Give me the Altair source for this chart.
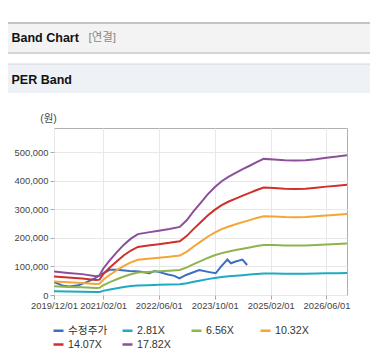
import altair as alt
import pandas as pd

# ---- data (values in 원) ----
band_dates = ["2019-12-01", "2020-04-01", "2020-08-01", "2020-12-01", "2021-01-01", "2021-02-01",
              "2021-04-01", "2021-06-01", "2021-08-01", "2021-10-01", "2021-12-01", "2022-03-01",
              "2022-06-01", "2022-09-01", "2022-12-01", "2023-02-01", "2023-04-01", "2023-06-01",
              "2023-08-01", "2023-10-01", "2023-12-01", "2024-02-01", "2024-04-01", "2024-06-01",
              "2024-08-01", "2024-10-01", "2024-12-01", "2025-03-01", "2025-06-01", "2025-09-01",
              "2025-12-01", "2026-03-01", "2026-06-01", "2026-09-01", "2026-12-01"]

per_1782 = [82000, 77000, 73000, 66000, 68000, 92000, 122000, 150000, 176000, 197000, 213000, 219000,
            225000, 231000, 238000, 262000, 293000, 322000, 352000, 377000, 398000, 414000, 427000, 440000,
            452000, 465000, 476000, 474000, 471000, 470000, 471000, 475000, 480000, 484000, 489000]
per_1407 = [64700, 60800, 57600, 52100, 53700, 72600, 96300, 118400, 139000, 155500, 168200, 172900,
            177700, 182400, 187900, 206900, 231300, 254300, 277900, 297700, 314300, 326900, 337200, 347400,
            356900, 367200, 375800, 374300, 371900, 371100, 371900, 375100, 379000, 382200, 386100]
per_1032 = [47500, 44600, 42300, 38200, 39400, 53300, 70700, 86900, 101900, 114100, 123400, 126800,
            130300, 133800, 137800, 151700, 169700, 186500, 203800, 218300, 230500, 239700, 247300, 254800,
            261800, 269300, 275700, 274500, 272800, 272200, 272800, 275100, 278000, 280300, 283200]
per_656 = [30200, 28300, 26900, 24300, 25000, 33900, 44900, 55200, 64800, 72500, 78400, 80600,
           82800, 85000, 87600, 96400, 107900, 118500, 129600, 138800, 146500, 152400, 157200, 162000,
           166400, 171200, 175200, 174500, 173400, 173000, 173400, 174800, 176700, 178200, 180000]
per_281 = [12900, 12100, 11500, 10400, 10700, 14500, 19200, 23700, 27800, 31100, 33600, 34500,
           35500, 36400, 37500, 41300, 46200, 50800, 55500, 59500, 62800, 65300, 67300, 69400,
           71300, 73300, 75100, 74800, 74300, 74100, 74300, 74900, 75700, 76300, 77100]

price_dates = ["2019-12-01", "2020-01-15", "2020-02-20", "2020-04-15", "2020-07-01", "2020-09-10",
               "2020-11-20", "2021-02-01", "2021-04-01", "2021-06-01", "2021-09-20", "2021-12-15",
               "2022-03-10", "2022-04-25", "2022-06-05", "2022-08-20", "2022-10-15", "2022-11-28",
               "2023-01-25", "2023-05-20", "2023-08-15", "2023-10-10", "2023-11-25", "2024-01-20",
               "2024-02-20", "2024-04-01", "2024-05-30", "2024-07-10"]
price = [45000, 38000, 32000, 30000, 34000, 45000, 58000, 76000, 88000, 88000, 84000, 82000,
         76000, 84000, 80000, 72000, 67000, 58000, 70000, 87000, 80000, 76000, 99000, 124000,
         111000, 117000, 124000, 105000]

series_names = ["수정주가", "2.81X", "6.56X", "10.32X", "14.07X", "17.82X"]
series_colors = ["#3a6fc2", "#1eaac4", "#8fb44f", "#f4a534", "#d0302b", "#8c4f9b"]
x_ticks = ["2019-12-01", "2021-02-01", "2022-06-01", "2023-10-01", "2025-02-01", "2026-06-01"]
y_ticks = [0, 100000, 200000, 300000, 400000, 500000]

# ---- tables ----
def ms(s):
    return int(pd.Timestamp(s, tz="UTC").value // 10**6)

rows = []
for d, v in zip(price_dates, price):
    rows.append({"date": ms(d), "value": v, "series": "수정주가", "ord": 0})
for k, (name, vals) in enumerate(zip(series_names[1:], [per_281, per_656, per_1032, per_1407, per_1782])):
    for d, v in zip(band_dates, vals):
        rows.append({"date": ms(d), "value": v, "series": name, "ord": k + 1})
df = pd.DataFrame(rows)

FONT = "Liberation Sans, Noto Sans CJK KR, sans-serif"
x_domain = [ms("2019-12-01"), ms("2026-11-27")]

x_label_expr = (
    "toString(utcyear(datum.value)) + '/' + (utcmonth(datum.value) < 9 ? '0' : '') + "
    "toString(utcmonth(datum.value) + 1) + '/' + (utcdate(datum.value) < 10 ? '0' : '') + "
    "toString(utcdate(datum.value))"
)
y_label_expr = "datum.value == 0 ? '0' : toString(round(datum.value / 1000)) + ',000'"

color = alt.Color(
    "series:N",
    scale=alt.Scale(domain=series_names, range=series_colors),
    sort=series_names,
    legend=alt.Legend(
        title=None, orient="none", legendX=-2, legendY=196, direction="horizontal",
        columns=4, symbolType="stroke", symbolSize=100, symbolStrokeWidth=2.5,
        labelFontSize=10.7, labelFont=FONT, labelColor="#333", labelOffset=3,
        columnPadding=9, rowPadding=2, gridAlign="all",
    ),
)

lines = alt.Chart(df).mark_line(strokeWidth=2, clip=True).encode(
    x=alt.X("date:T", scale=alt.Scale(type="utc", domain=x_domain, nice=False),
            axis=alt.Axis(values=[ms(t) for t in x_ticks], labelExpr=x_label_expr,
                          title=None, labelFontSize=9.4, labelFont=FONT, labelColor="#444",
                          tickSize=4, tickColor="#aaa", labelPadding=2, domain=False,
                          gridColor="#e8e8e8", labelOverlap=False, labelFlush=False)),
    y=alt.Y("value:Q", scale=alt.Scale(domain=[0, 584000], nice=False),
            axis=alt.Axis(values=y_ticks, labelExpr=y_label_expr, title="(원)", titleAngle=0, titleX=-6,
                          titleY=-10, titleAlign="center", titleBaseline="middle",
                          titleFontWeight="normal", titleFontSize=10.5, titleFont=FONT,
                          titleColor="#444", labelFontSize=9.4, labelFont=FONT, labelColor="#444",
                          tickSize=4, tickColor="#aaa", labelPadding=2, domain=False,
                          gridColor="#e8e8e8")),
    color=color,
    detail="series:N",
    order="ord:Q",
)

# ---- page decorations (header bars) ----
bar1 = alt.Chart().mark_rect(color="#f3f3f3").encode(
    x=alt.value(-46), x2=alt.value(316), y=alt.value(-105), y2=alt.value(-75))
bar1_top = alt.Chart().mark_rule(color="#b2b2b2", strokeWidth=1.5).encode(
    x=alt.value(-46), x2=alt.value(316), y=alt.value(-105))
bar1_bot = alt.Chart().mark_rule(color="#c9c9c9", strokeWidth=1.5).encode(
    x=alt.value(-46), x2=alt.value(316), y=alt.value(-75))
bar2 = alt.Chart().mark_rect(color="#eef1f6").encode(
    x=alt.value(-46), x2=alt.value(316), y=alt.value(-64), y2=alt.value(-35))
bar2_top = alt.Chart().mark_rule(color="#d6d6d6", strokeWidth=1).encode(
    x=alt.value(-46), x2=alt.value(316), y=alt.value(-64))
t1 = alt.Chart().mark_text(text="Band Chart", font=FONT, fontSize=12.5, fontWeight="bold",
                           align="left", baseline="middle", color="#111").encode(
    x=alt.value(-42.5), y=alt.value(-90))
t2 = alt.Chart().mark_text(text="[연결]", font=FONT, fontSize=11.5,
                           align="left", baseline="middle", color="#888").encode(
    x=alt.value(34.5), y=alt.value(-90))
t3 = alt.Chart().mark_text(text="PER Band", font=FONT, fontSize=12.5, fontWeight="bold",
                           align="left", baseline="middle", color="#111").encode(
    x=alt.value(-42.5), y=alt.value(-48.5))

chart = alt.layer(bar1, bar1_top, bar1_bot, bar2, bar2_top, t1, t2, t3, lines).properties(
    width=293, height=167, autosize="none",
    padding={"left": 46, "top": 120, "right": 23, "bottom": 55},
).configure_view(stroke="#b0b0b0", strokeWidth=1)

chart.save("out.html", embed_options={"renderer": "svg", "actions": False})
